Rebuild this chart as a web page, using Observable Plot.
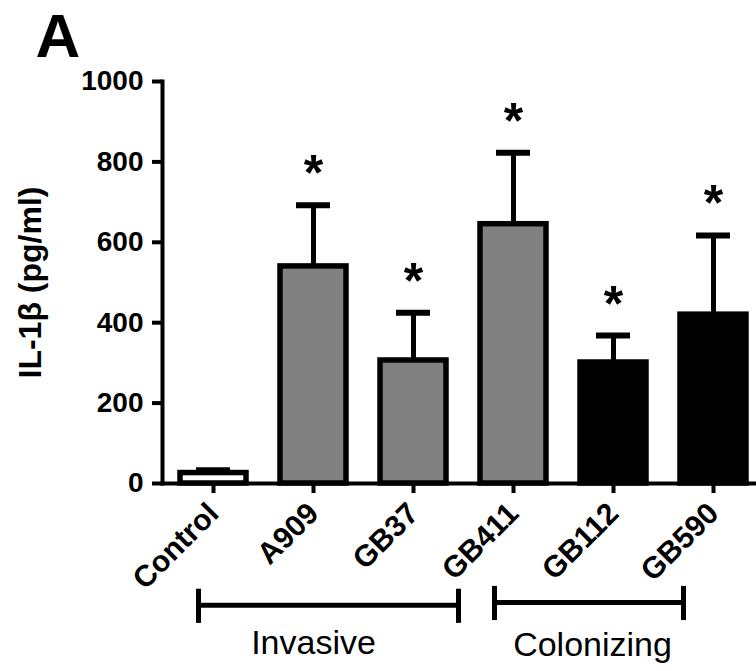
<!DOCTYPE html>
<html><head><meta charset="utf-8">
<script src="https://cdn.jsdelivr.net/npm/d3@7"></script>
<script src="https://cdn.jsdelivr.net/npm/@observablehq/plot@0.6"></script>
<style>
body{margin:0;background:#fff}
#chart svg{font-family:"Liberation Sans",Arial,Helvetica,sans-serif;background:#fff}
</style>
</head><body><div id="chart"></div>
<script>
// ---- data ----
const strains   = ["Control", "A909", "GB37", "GB411", "GB112", "GB590"];
const means     = [26, 540, 306, 645, 301, 420];
const errorTops = [33, 692, 425, 823, 368, 617];
const groups    = ["control", "invasive", "invasive", "invasive", "colonizing", "colonizing"];
const significant = [false, true, true, true, true, true];
const yTicks    = [0, 200, 400, 600, 800, 1000];
const yLabel    = "IL-1\u03b2 (pg/ml)";
const panelLabel = "A";
const groupNames = ["Invasive", "Colonizing"];

const rows = strains.map((s, i) => ({strain: s, mean: means[i], hi: errorTops[i], group: groups[i], sig: significant[i]}));
const fillOf = {control: "#ffffff", invasive: "#808080", colonizing: "#000000"};

const chart = Plot.plot({
  width: 756,
  height: 671,
  marginLeft: 162,
  marginRight: 0,
  marginTop: 81,
  marginBottom: 188,
  style: {fontFamily: '"Liberation Sans", Arial, sans-serif', color: "#000", overflow: "visible"},
  x: {domain: strains, paddingInner: 0.34, paddingOuter: 0.14, align: 0.643, label: null},
  y: {domain: [0, 1000], label: null},
  marks: [
    // error bar stems and caps (upper only)
    Plot.ruleX(rows, {x: "strain", y1: "mean", y2: "hi", stroke: "#000", strokeWidth: 5}),
    Plot.tickY(rows, {x: "strain", y: "hi", stroke: "#000", strokeWidth: 6, insetLeft: 16, insetRight: 16}),
    // bars
    Plot.barY(rows, {x: "strain", y: "mean", fill: d => fillOf[d.group], stroke: "#000", strokeWidth: 5.5}),
    // significance stars
    Plot.text(rows.filter(d => d.sig), {x: "strain", y: "hi", text: () => "*", fontSize: 50, fontWeight: "bold", lineAnchor: "bottom", dy: -15, fill: "#000"}),
    // axes
    Plot.axisY({ticks: yTicks, tickFormat: d => String(d), tickSize: 10, tickPadding: 9, fontSize: 28, fontWeight: "bold", strokeWidth: 4, label: null}),
    Plot.axisX({tickSize: 10, tickPadding: 15, tickRotate: -45, fontSize: 30, fontWeight: "bold", strokeWidth: 4, label: null}),
    Plot.frame({anchor: "left", strokeWidth: 4, strokeLinecap: "square"}),
    Plot.frame({anchor: "bottom", strokeWidth: 4, strokeLinecap: "square"}),
    // y label
    Plot.text([yLabel], {frameAnchor: "left", dx: -132, rotate: -90, fontSize: 32, fontWeight: "bold", textAnchor: "middle", lineAnchor: "middle", fill: "#000"}),
    // panel letter
    Plot.text([panelLabel], {frameAnchor: "top-left", dx: -127, dy: -25, fontSize: 62, fontWeight: "bold", textAnchor: "start", lineAnchor: "bottom", fill: "#000"}),
    // Invasive bracket
    Plot.ruleY([-303], {x1: () => "Control", x2: () => "GB37", insetLeft: 18, insetRight: -12, strokeWidth: 5}),
    Plot.ruleX([-263], {x: () => "Control", y1: -263, y2: -348, dx: -15, strokeWidth: 5}),
    Plot.ruleX([-263], {x: () => "GB37", y1: -263, y2: -348, dx: 45, strokeWidth: 5}),
    Plot.text([groupNames[0]], {x: () => "A909", frameAnchor: "bottom", dy: 170, lineAnchor: "bottom", fontSize: 34, fill: "#000"}),
    // Colonizing bracket
    Plot.ruleY([-296], {x1: () => "GB411", x2: () => "GB590", insetLeft: 15, insetRight: 62, strokeWidth: 5}),
    Plot.ruleX([-256], {x: () => "GB411", y1: -256, y2: -341, dx: -19, strokeWidth: 5}),
    Plot.ruleX([-256], {x: () => "GB590", y1: -256, y2: -341, dx: -30, strokeWidth: 5}),
    Plot.text([groupNames[1]], {x: () => "GB112", frameAnchor: "bottom", dx: -21, dy: 172, lineAnchor: "bottom", fontSize: 34, fill: "#000"})
  ]
});
document.getElementById("chart").append(chart);
</script>
</body></html>
